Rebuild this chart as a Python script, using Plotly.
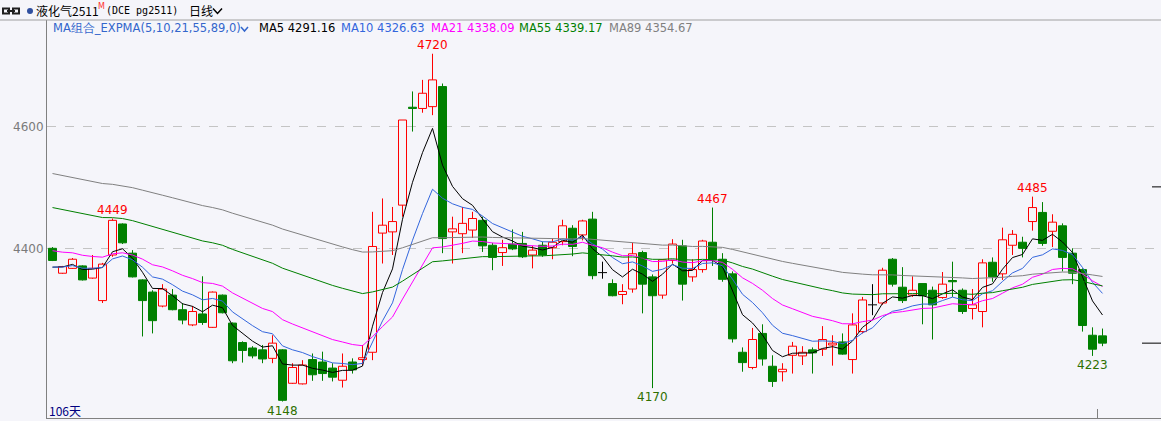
import plotly.graph_objects as go

# ---------------- data ----------------
opens = [4400, 4359, 4367, 4371, 4351, 4314, 4389, 4440, 4392, 4348,
         4328, 4305, 4323, 4299, 4274, 4292, 4270, 4323, 4277, 4245,
         4236, 4233, 4219, 4233, 4178, 4177, 4217, 4213, 4203, 4183,
         4213, 4217, 4229, 4425, 4427, 4471, 4632, 4630, 4633, 4666,
         4427, 4424, 4430, 4446, 4405, 4393, 4407, 4408, 4389, 4405,
         4401, 4411, 4433, 4422, 4448, 4360, 4342, 4324, 4333, 4393,
         4353, 4323, 4380, 4404, 4353, 4365, 4410, 4382, 4358, 4229,
         4204, 4260, 4206, 4197, 4224, 4223, 4233, 4234, 4241, 4246,
         4217, 4263, 4307, 4310, 4382, 4336, 4323, 4342, 4331, 4319,
         4347, 4331, 4301, 4296, 4377, 4358, 4405, 4410, 4444, 4459,
         4428, 4437, 4392, 4365, 4257, 4256]
highs = [4402, 4371, 4384, 4372, 4389, 4376, 4449, 4441, 4397, 4349,
         4331, 4341, 4333, 4310, 4305, 4354, 4329, 4324, 4278, 4247,
         4239, 4241, 4257, 4234, 4211, 4216, 4227, 4230, 4211, 4227,
         4219, 4241, 4460, 4482, 4468, 4611, 4658, 4677, 4720, 4671,
         4452, 4468, 4460, 4452, 4409, 4414, 4431, 4427, 4404, 4411,
         4416, 4447, 4438, 4447, 4460, 4378, 4349, 4341, 4409, 4396,
         4357, 4382, 4415, 4414, 4382, 4414, 4467, 4392, 4362, 4237,
         4269, 4275, 4224, 4211, 4246, 4239, 4237, 4272, 4257, 4260,
         4293, 4320, 4341, 4368, 4384, 4369, 4354, 4342, 4337, 4361,
         4378, 4334, 4333, 4382, 4385, 4434, 4430, 4419, 4485, 4476,
         4456, 4441, 4400, 4367, 4270, 4268]
lows = [4379, 4358, 4366, 4347, 4350, 4310, 4386, 4407, 4352, 4255,
        4260, 4303, 4298, 4275, 4272, 4274, 4269, 4293, 4211, 4212,
        4219, 4211, 4211, 4148, 4177, 4176, 4182, 4182, 4181, 4171,
        4194, 4208, 4216, 4375, 4389, 4452, 4592, 4623, 4619, 4392,
        4375, 4392, 4417, 4394, 4364, 4371, 4397, 4384, 4367, 4386,
        4382, 4405, 4387, 4413, 4349, 4350, 4321, 4308, 4327, 4293,
        4170, 4317, 4375, 4314, 4345, 4360, 4371, 4345, 4245, 4197,
        4201, 4207, 4172, 4181, 4194, 4208, 4194, 4223, 4207, 4225,
        4194, 4260, 4290, 4307, 4337, 4310, 4320, 4275, 4250, 4317,
        4320, 4292, 4283, 4270, 4345, 4348, 4389, 4385, 4429, 4404,
        4402, 4362, 4341, 4263, 4223, 4239]
closes = [4380, 4370, 4382, 4348, 4367, 4374, 4446, 4409, 4353, 4314,
          4281, 4333, 4299, 4282, 4296, 4278, 4328, 4294, 4215, 4232,
          4223, 4218, 4244, 4150, 4204, 4208, 4192, 4194, 4188, 4206,
          4200, 4220, 4403, 4438, 4444, 4611, 4630, 4655, 4677, 4416,
          4432, 4441, 4449, 4404, 4385, 4401, 4399, 4386, 4397, 4389,
          4410, 4437, 4403, 4445, 4355, 4360, 4322, 4329, 4391, 4341,
          4322, 4381, 4407, 4341, 4365, 4412, 4381, 4349, 4251, 4212,
          4250, 4218, 4181, 4201, 4239, 4229, 4228, 4250, 4244, 4226,
          4274, 4315, 4307, 4364, 4341, 4314, 4331, 4322, 4307, 4341,
          4345, 4296, 4307, 4376, 4353, 4414, 4423, 4400, 4467, 4408,
          4443, 4385, 4359, 4273, 4234, 4244]

ema_periods = [5, 10, 21, 55, 89]
ema_seeds = [4369, 4369, 4396, 4467, 4523]          # line values at the first bar
ema_names = ["MA5", "MA10", "MA21", "MA55", "MA89"]
ema_colors = ["#000000", "#3366DD", "#FF00FF", "#008000", "#808080"]
legend_values = ["4291.16", "4326.63", "4338.09", "4339.17", "4354.67"]

high_marks = [6, 38, 66, 98]
low_marks = [23, 60, 104]
ytick_vals = [4400, 4600]
marker_price = 4501
days_label = "106天"
title_name = "液化气2511"
title_flag = "M"
title_code = "(DCE pg2511)"
title_period = "日线"
indicator_label = "MA组合_EXPMA(5,10,21,55,89,0)"

# ---------------- styling ----------------
BG = "#F5F5FA"
RED = "#FF0000"
GREEN = "#008000"
LOWC = "#2F7000"
W, H = 1161, 421
ML, MR, MT, MB = 47, 0, 20, 3
PW, PH = W - ML - MR, H - MT - MB
X0PX, DX = 52.5, 10.0            # centre of first bar, bar spacing in px
PRICE_PX = 0.608                 # px per price point
Y_REF_PX, Y_REF = 248.3, 4400


def px(x):
    return (x - ML) / PW


def py(y):
    return (H - MB - y) / PH


n = len(closes)
idx = list(range(n))
xr = [(ML - X0PX) / DX, (W - MR - X0PX) / DX]
yr = [Y_REF - ((H - MB) - Y_REF_PX) / PRICE_PX, Y_REF + (Y_REF_PX - MT) / PRICE_PX]

fig = go.Figure()

# wicks (only the parts outside the body)
wick = {RED: ([], []), GREEN: ([], []), "#000000": ([], [])}
bx, bbase, bh, bfill, bline = [], [], [], [], []
cross_x, cross_y = [], []
for i in idx:
    o, h, l, c = opens[i], highs[i], lows[i], closes[i]
    if c > o:
        col = RED
    elif c < o:
        col = GREEN
    else:
        col = "#000000"
    top, bot = max(o, c), min(o, c)
    xs, ys = wick[col]
    if h > top:
        xs += [i, i, None]
        ys += [top, h, None]
    if l < bot:
        xs += [i, i, None]
        ys += [l, bot, None]
    if col == "#000000":
        cross_x += [i - 0.45, i + 0.45, None]
        cross_y += [o, o, None]
    else:
        bx.append(i)
        bbase.append(bot)
        bh.append(max(top - bot, 1.2))
        bfill.append(BG if col == RED else GREEN)
        bline.append(col)

fig.add_trace(go.Bar(x=bx, y=bh, base=bbase, width=0.8,
                     marker=dict(color=bfill, line=dict(color=bline, width=1)),
                     hoverinfo="skip"))
for col, (xs, ys) in wick.items():
    fig.add_trace(go.Scatter(x=xs, y=ys, mode="lines",
                             line=dict(color=col, width=1), hoverinfo="skip"))
fig.add_trace(go.Scatter(x=cross_x, y=cross_y, mode="lines",
                         line=dict(color="#000000", width=1), hoverinfo="skip"))

# EXPMA lines computed from the closes
for p, seed, name, col in zip(ema_periods, ema_seeds, ema_names, ema_colors):
    a = 2.0 / (p + 1)
    vals = [seed]
    for c in closes[1:]:
        vals.append(a * c + (1 - a) * vals[-1])
    fig.add_trace(go.Scatter(x=idx, y=vals, mode="lines", name=name,
                             line=dict(color=col, width=1), hoverinfo="skip"))

ann = []
LBL = dict(family="DejaVu Sans", size=12)
# high / low marks
for i in high_marks:
    ann.append(dict(x=i, y=highs[i], xref="x", yref="y", text=str(highs[i]),
                    showarrow=False, yanchor="bottom", yshift=0,
                    font=dict(LBL, color=RED)))
for i in low_marks:
    ann.append(dict(x=i, y=lows[i], xref="x", yref="y", text=str(lows[i]),
                    showarrow=False, yanchor="top", yshift=0,
                    font=dict(LBL, color=LOWC)))

CJK = "Noto Sans CJK SC"
# header line 1
ann.append(dict(x=px(34), y=py(11), xref="paper", yref="paper", text=title_name,
                showarrow=False, xanchor="left", yanchor="middle",
                font=dict(family=CJK, size=12, color="#000000")))
ann.append(dict(x=px(96), y=py(7), xref="paper", yref="paper", text=title_flag,
                showarrow=False, xanchor="left", yanchor="middle",
                font=dict(family="DejaVu Sans", size=8, color="#FF3030")))
ann.append(dict(x=px(104), y=py(11), xref="paper", yref="paper", text=title_code,
                showarrow=False, xanchor="left", yanchor="middle",
                font=dict(family="DejaVu Sans Mono", size=10, color="#000000")))
ann.append(dict(x=px(187), y=py(11), xref="paper", yref="paper", text=title_period,
                showarrow=False, xanchor="left", yanchor="middle",
                font=dict(family=CJK, size=12, color="#000000")))
# header line 2 (indicator legend)
ann.append(dict(x=px(51), y=py(28), xref="paper", yref="paper", text=indicator_label,
                showarrow=False, xanchor="left", yanchor="middle",
                font=dict(family="DejaVu Sans", size=11.5, color="#3366CC")))
legend_x = [257, 339, 429, 517, 607]
for lx, name, val, col in zip(legend_x, ema_names, legend_values, ema_colors):
    ann.append(dict(x=px(lx), y=py(28), xref="paper", yref="paper",
                    text=f"{name} {val}", showarrow=False, xanchor="left",
                    yanchor="middle",
                    font=dict(family="DejaVu Sans", size=11.5, color=col)))
ann.append(dict(x=px(47), y=py(410), xref="paper", yref="paper", text=days_label,
                showarrow=False, xanchor="left", yanchor="middle",
                font=dict(family=CJK, size=12, color="#000080")))

shapes = []
# header border
shapes.append(dict(type="line", xref="paper", yref="paper", x0=px(0), x1=1,
                   y0=1, y1=1, line=dict(color="#A0A0A0", width=1)))
# link icon
shapes.append(dict(type="rect", xref="paper", yref="paper", x0=px(3), x1=px(9),
                   y0=py(13.5), y1=py(8.5), line=dict(color="#202020", width=2)))
shapes.append(dict(type="rect", xref="paper", yref="paper", x0=px(13), x1=px(19),
                   y0=py(13.5), y1=py(8.5), line=dict(color="#202020", width=2)))
shapes.append(dict(type="line", xref="paper", yref="paper", x0=px(7), x1=px(15),
                   y0=py(11), y1=py(11), line=dict(color="#202020", width=2)))
# blue dot
shapes.append(dict(type="circle", xref="paper", yref="paper", x0=px(27), x1=px(33),
                   y0=py(14), y1=py(8), fillcolor="#3050A0",
                   line=dict(color="#3050A0", width=0)))
# chevrons
shapes.append(dict(type="path", xref="paper", yref="paper",
                   path=f"M {px(213)} {py(8.5)} L {px(217.5)} {py(13.5)} L {px(222)} {py(8.5)}",
                   line=dict(color="#000000", width=1.5)))
shapes.append(dict(type="path", xref="paper", yref="paper",
                   path=f"M {px(241)} {py(27)} L {px(244.5)} {py(31)} L {px(248)} {py(27)}",
                   line=dict(color="#3366CC", width=1.5)))
# right-hand price markers
shapes.append(dict(type="line", xref="paper", yref="y", x0=px(1152), x1=1,
                   y0=marker_price, y1=marker_price, line=dict(color="#000000", width=1)))
shapes.append(dict(type="line", xref="paper", yref="y", x0=px(1142), x1=1,
                   y0=closes[-1], y1=closes[-1], line=dict(color="#000000", width=1)))
# small time tick at the bottom
shapes.append(dict(type="line", xref="x", yref="paper", x0=104.5, x1=104.5,
                   y0=0, y1=py(409), line=dict(color="#808080", width=1)))

fig.update_layout(
    width=W, height=H,
    margin=dict(l=ML, r=MR, t=MT, b=MB, pad=0),
    paper_bgcolor=BG, plot_bgcolor=BG,
    showlegend=False, barmode="overlay", bargap=0,
    hovermode=False,
    annotations=ann, shapes=shapes,
    xaxis=dict(range=xr, showgrid=False, zeroline=False, showticklabels=False,
               ticks="", showline=True, linecolor="#808080", linewidth=1,
               fixedrange=True),
    yaxis=dict(range=yr, tickvals=ytick_vals, ticktext=[str(v) for v in ytick_vals],
               showgrid=True, gridcolor="#C4C4C4", griddash="dash", gridwidth=1,
               zeroline=False, ticks="", showline=True, linecolor="#808080",
               linewidth=1, tickfont=dict(family="DejaVu Sans", size=12, color="#7A7A7A"),
               fixedrange=True),
)

fig.write_html(
    "out.html",
    config={"displayModeBar": False, "staticPlot": True},
    post_script="document.body.style.margin='0';document.body.style.padding='0';"
                "document.body.style.background='" + BG + "';",
)
